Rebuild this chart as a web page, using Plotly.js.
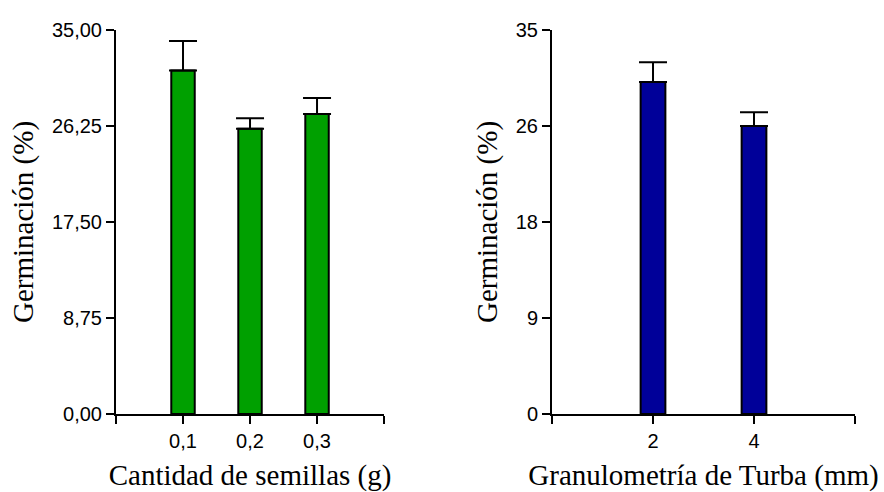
<!DOCTYPE html>
<html><head><meta charset="utf-8">
<script src="https://cdn.plot.ly/plotly-3.0.1.min.js"></script>
<style>html,body{margin:0;padding:0;background:#fff}</style>
</head><body><div id="chart" style="width:884px;height:492px"></div>
<script>
// Left panel: seed quantity
const seedCategories = ['0,1', '0,2', '0,3'];
const seedGermination = [31.3, 26.0, 27.35];
const seedError = [2.7, 0.95, 1.45];
// Right panel: peat granulometry
const peatCategories = ['2', '4'];
const peatGermination = [30.25, 26.25];
const peatError = [1.8, 1.25];
// Tick labels
const yTickVals = [0, 8.75, 17.5, 26.25, 35];
const seedYTickText = ['0,00', '8,75', '17,50', '26,25', '35,00'];
const peatYTickText = ['0', '9', '18', '26', '35'];

const seedX = seedCategories.map((_, i) => i + 1);
const peatX = peatCategories.map((_, i) => i + 1);

const tickFont = () => ({family: 'Liberation Sans', size: 20, color: '#000'});
const titleFont = () => ({family: 'Liberation Serif', size: 29, color: '#000'});

const traces = [
  {
    type: 'bar', x: seedX, y: seedGermination, width: 0.35,
    marker: {color: '#00a000', line: {color: '#000', width: 2}},
    error_y: {type: 'data', symmetric: false, array: seedError, arrayminus: seedError.map(() => 0),
              color: '#000', thickness: 2, width: 14},
    xaxis: 'x', yaxis: 'y', hoverinfo: 'skip'
  },
  {
    type: 'bar', x: peatX, y: peatGermination, width: 0.245,
    marker: {color: '#000099', line: {color: '#000', width: 2}},
    error_y: {type: 'data', symmetric: false, array: peatError, arrayminus: peatError.map(() => 0),
              color: '#000', thickness: 2, width: 14},
    xaxis: 'x2', yaxis: 'y2', hoverinfo: 'skip'
  }
];

const commonAxis = () => ({
  showline: true, linecolor: '#000', linewidth: 2,
  ticks: 'outside', ticklen: 8, tickwidth: 2, tickcolor: '#000',
  showgrid: false, zeroline: false, tickfont: tickFont(), fixedrange: true
});

const layout = {
  width: 884, height: 492,
  margin: {l: 116, r: 29, t: 30, b: 78},
  paper_bgcolor: '#fff', plot_bgcolor: '#fff',
  showlegend: false,
  xaxis: Object.assign(commonAxis(), {
    domain: [0, 0.3627], range: [0, seedCategories.length + 1],
    tickmode: 'array', tickvals: [0].concat(seedX, [seedCategories.length + 1]),
    ticktext: [''].concat(seedCategories, ['']),
    title: {text: 'Cantidad de semillas (g)', font: titleFont(), standoff: 16},
    anchor: 'y'
  }),
  yaxis: Object.assign(commonAxis(), {
    range: [0, 35], tickmode: 'array', tickvals: yTickVals, ticktext: seedYTickText,
    title: {text: 'Germinación (%)', font: titleFont(), standoff: 10},
    anchor: 'x'
  }),
  xaxis2: Object.assign(commonAxis(), {
    domain: [0.59, 1], range: [0, peatCategories.length + 1],
    tickmode: 'array', tickvals: [0].concat(peatX, [peatCategories.length + 1]),
    ticktext: [''].concat(peatCategories, ['']),
    title: {text: 'Granulometría de Turba (mm)', font: titleFont(), standoff: 16},
    anchor: 'y2'
  }),
  yaxis2: Object.assign(commonAxis(), {
    range: [0, 35], tickmode: 'array', tickvals: yTickVals, ticktext: peatYTickText,
    title: {text: 'Germinación (%)', font: titleFont(), standoff: 10},
    anchor: 'x2'
  })
};

Plotly.newPlot('chart', traces, layout, {displayModeBar: false, staticPlot: true});
</script>
</body></html>
